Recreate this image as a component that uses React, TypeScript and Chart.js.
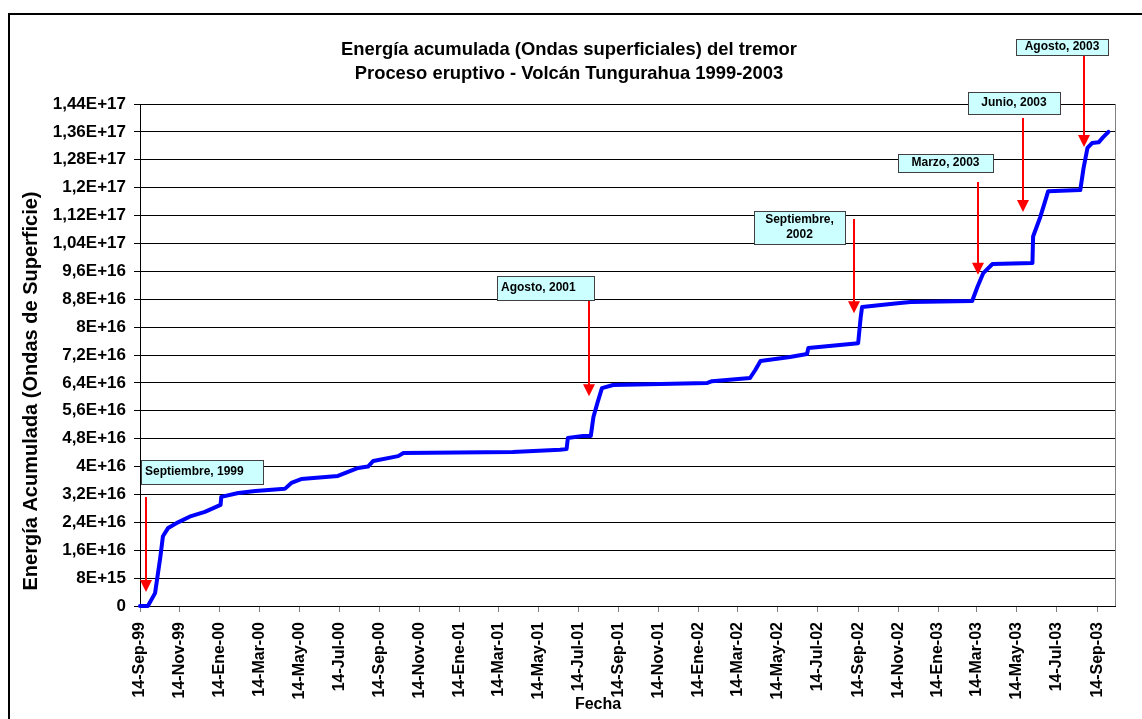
import React, { useEffect, useRef } from "react";
import { Chart, registerables } from "chart.js";

Chart.register(...registerables);

// Day offsets are counted from 14-Sep-1999
const tickDays = [0, 61, 122, 182, 243, 304, 366, 427, 488, 547, 608, 669, 731, 792, 853, 912, 973, 1034, 1096, 1157, 1218, 1277, 1338, 1399, 1461];
const tickLabels = [
  "14-Sep-99", "14-Nov-99", "14-Ene-00", "14-Mar-00", "14-May-00", "14-Jul-00", "14-Sep-00",
  "14-Nov-00", "14-Ene-01", "14-Mar-01", "14-May-01", "14-Jul-01", "14-Sep-01", "14-Nov-01",
  "14-Ene-02", "14-Mar-02", "14-May-02", "14-Jul-02", "14-Sep-02", "14-Nov-02", "14-Ene-03",
  "14-Mar-03", "14-May-03", "14-Jul-03", "14-Sep-03",
];
const xMaxDay = 1488;

const dayOffsets = [
  0, 12, 23, 31, 35, 43, 58, 78, 99, 123, 124, 150, 176, 221, 231, 246, 302, 333, 348, 356,
  394, 402, 569, 641, 651, 653, 676, 688, 692, 698, 705, 722, 866, 873, 931, 939, 947, 992,
  1018, 1020, 1096, 1100, 1102, 1160, 1176, 1270, 1278, 1287, 1301, 1362, 1363, 1374, 1382,
  1386, 1435, 1440, 1446, 1453, 1463, 1470, 1478,
];
const energyValues = [
  0, 0, 0.37e16, 1.4e16, 2.0e16, 2.24e16, 2.4e16, 2.58e16, 2.7e16, 2.9e16, 3.13e16, 3.24e16,
  3.3e16, 3.36e16, 3.53e16, 3.64e16, 3.73e16, 3.96e16, 4.0e16, 4.16e16,
  4.3e16, 4.39e16, 4.42e16, 4.48e16, 4.5e16, 4.82e16, 4.88e16, 4.88e16, 5.42e16, 5.82e16,
  6.25e16, 6.34e16, 6.4e16, 6.45e16, 6.54e16, 6.77e16, 7.03e16, 7.14e16,
  7.23e16, 7.4e16, 7.54e16, 8.3e16, 8.58e16, 8.69e16, 8.72e16, 8.75e16, 9.15e16, 9.55e16,
  9.81e16, 9.84e16, 10.6e16, 11.16e16, 11.65e16,
  11.9e16, 11.93e16, 12.56e16, 13.14e16, 13.28e16, 13.3e16, 13.45e16, 13.6e16,
];

const yStep = 8e15;
const yTickLabels = [
  "0", "8E+15", "1,6E+16", "2,4E+16", "3,2E+16", "4E+16", "4,8E+16", "5,6E+16", "6,4E+16",
  "7,2E+16", "8E+16", "8,8E+16", "9,6E+16", "1,04E+17", "1,12E+17", "1,2E+17", "1,28E+17",
  "1,36E+17", "1,44E+17",
];

const titleLines = [
  "Energía acumulada (Ondas superficiales) del tremor",
  "Proceso eruptivo - Volcán Tungurahua 1999-2003",
];
const yAxisTitle = "Energía Acumulada (Ondas de Superficie)";
const xAxisTitle = "Fecha";

// Callouts: text, arrow day, arrow tip value
const calloutTexts = [["Septiembre, 1999"], ["Agosto, 2001"], ["Septiembre,", "2002"], ["Marzo, 2003"], ["Junio, 2003"], ["Agosto, 2003"]];
const calloutDays = [9, 685, 1090, 1279, 1348, 1440];
const calloutTipValues = [0.4e16, 6.02e16, 8.4e16, 9.5e16, 11.3e16, 13.17e16];

// Layout of callout boxes (pixels): left, top, width, height, align, arrow tail y
const calloutLayout = [
  { x: 141, y: 460, w: 122, h: 24, align: "left", tail: 497 },
  { x: 497, y: 276, w: 97, h: 24, align: "left", tail: 300 },
  { x: 754, y: 211, w: 91, h: 33, align: "center", tail: 219 },
  { x: 898, y: 154, w: 95, h: 18, align: "center", tail: 182 },
  { x: 968, y: 92, w: 92, h: 22, align: "center", tail: 118 },
  { x: 1016, y: 39, w: 92, h: 16, align: "center", tail: 55 },
];

const FONT = "'Liberation Sans', Arial, sans-serif";

const decorPlugin = {
  id: "decor",
  beforeDraw(chart: any) {
    const ctx = chart.ctx;
    ctx.save();
    ctx.fillStyle = "#ffffff";
    ctx.fillRect(0, 0, chart.width, chart.height);
    ctx.strokeStyle = "#000000";
    ctx.lineWidth = 2;
    ctx.strokeRect(9, 14, 1300, 900);
    ctx.restore();
  },
  afterDraw(chart: any) {
    const ctx = chart.ctx;
    const area = chart.chartArea;
    const xs = chart.scales.x;
    const ys = chart.scales.y;
    ctx.save();
    // plot area right border
    ctx.strokeStyle = "#808080";
    ctx.lineWidth = 1;
    ctx.beginPath();
    ctx.moveTo(Math.round(area.right) + 0.5, area.top);
    ctx.lineTo(Math.round(area.right) + 0.5, area.bottom);
    ctx.stroke();

    // callouts
    calloutTexts.forEach((lines, i) => {
      const L = calloutLayout[i];
      const ax = Math.round(xs.getPixelForValue(calloutDays[i]));
      const tipY = ys.getPixelForValue(calloutTipValues[i]);
      ctx.strokeStyle = "#ff0000";
      ctx.fillStyle = "#ff0000";
      ctx.lineWidth = 2;
      ctx.beginPath();
      ctx.moveTo(ax, L.tail);
      ctx.lineTo(ax, tipY - 10);
      ctx.stroke();
      ctx.beginPath();
      ctx.moveTo(ax - 6, tipY - 12);
      ctx.lineTo(ax + 6, tipY - 12);
      ctx.lineTo(ax, tipY);
      ctx.closePath();
      ctx.fill();

      ctx.fillStyle = "#ccffff";
      ctx.fillRect(L.x, L.y, L.w, L.h);
      ctx.strokeStyle = "#404040";
      ctx.lineWidth = 1;
      ctx.strokeRect(L.x + 0.5, L.y + 0.5, L.w, L.h);
      ctx.fillStyle = "#000000";
      ctx.font = `bold 12px ${FONT}`;
      ctx.textBaseline = "middle";
      const lh = 15;
      const startY = L.y + L.h / 2 - ((lines.length - 1) * lh) / 2;
      lines.forEach((t, k) => {
        if (L.align === "left") {
          ctx.textAlign = "left";
          ctx.fillText(t, L.x + 4, startY + k * lh);
        } else {
          ctx.textAlign = "center";
          ctx.fillText(t, L.x + L.w / 2, startY + k * lh);
        }
      });
    });

    // titles
    ctx.fillStyle = "#000000";
    ctx.textAlign = "center";
    ctx.textBaseline = "middle";
    ctx.font = `bold 18.4px ${FONT}`;
    ctx.fillText(titleLines[0], 569, 50);
    ctx.fillText(titleLines[1], 569, 74);

    ctx.font = `bold 16px ${FONT}`;
    ctx.fillText(xAxisTitle, 598, 705);

    ctx.save();
    ctx.translate(31, 391);
    ctx.rotate(-Math.PI / 2);
    ctx.font = `bold 20px ${FONT}`;
    ctx.fillText(yAxisTitle, 0, 0);
    ctx.restore();

    ctx.restore();
  },
};

export default function App() {
  const ref = useRef<HTMLCanvasElement | null>(null);
  useEffect(() => {
    if (!ref.current) return;
    const points = dayOffsets.map((d, i) => ({ x: d, y: energyValues[i] }));
    const chart = new Chart(ref.current, {
      type: "line",
      data: {
        datasets: [
          {
            data: points,
            borderColor: "#0000ff",
            borderWidth: 4,
            pointRadius: 0,
            tension: 0,
            borderCapStyle: "round",
            borderJoinStyle: "round",
            clip: false,
          } as any,
        ],
      },
      options: {
        animation: false,
        responsive: false,
        devicePixelRatio: 1,
        layout: { padding: { left: 0, top: 104, right: 27, bottom: 0 } },
        plugins: { legend: { display: false }, title: { display: false }, tooltip: { enabled: false } },
        scales: {
          x: {
            type: "linear",
            min: 0,
            max: xMaxDay,
            afterBuildTicks: (scale: any) => {
              scale.ticks = tickDays.map((v) => ({ value: v }));
            },
            afterFit: (scale: any) => {
              scale.height = 113;
            },
            ticks: {
              autoSkip: false,
              minRotation: 90,
              maxRotation: 90,
              padding: 10,
              color: "#000000",
              font: { family: FONT, size: 16, weight: "bold" },
              callback: (_v: any, index: number) => tickLabels[index],
            },
            grid: { drawOnChartArea: false, drawTicks: true, tickLength: 6, tickColor: "#808080" },
            border: { color: "#000000", width: 1 },
          },
          y: {
            min: 0,
            max: yStep * (yTickLabels.length - 1),
            afterBuildTicks: (scale: any) => {
              scale.ticks = yTickLabels.map((_, i) => ({ value: i * yStep }));
            },
            afterFit: (scale: any) => {
              scale.width = 140;
            },
            ticks: {
              padding: 8,
              color: "#000000",
              font: { family: FONT, size: 17, weight: "bold" },
              callback: (_v: any, index: number) => yTickLabels[index],
            },
            grid: { color: "#000000", lineWidth: 1, tickLength: 6, tickColor: "#000000" },
            border: { color: "#000000", width: 1 },
          },
        },
      },
      plugins: [decorPlugin],
    } as any);
    return () => chart.destroy();
  }, []);
  return (
    <div style={{ position: "fixed", left: 0, top: 0, width: 1142, height: 719, background: "#fff" }}>
      <canvas ref={ref} width={1142} height={719} style={{ display: "block" }} />
    </div>
  );
}
